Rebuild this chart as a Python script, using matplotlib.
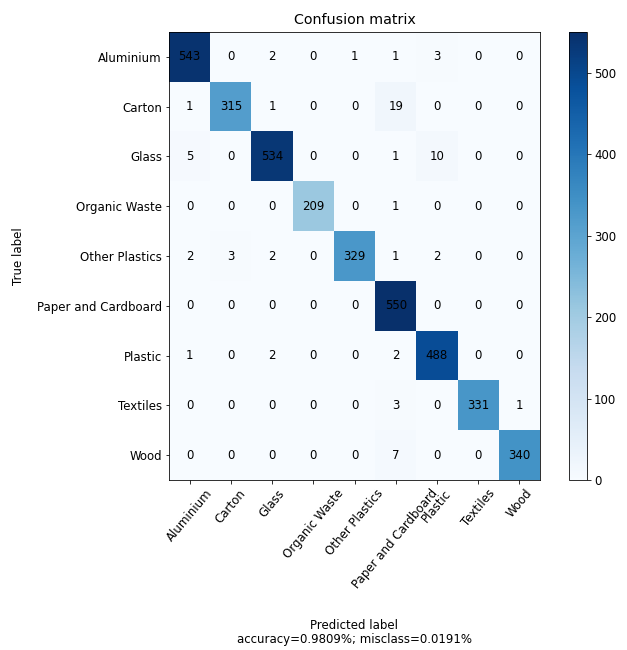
import numpy as np
import matplotlib
matplotlib.use("Agg")
from matplotlib import pyplot as plt

labels = ["Aluminium", "Carton", "Glass", "Organic Waste", "Other Plastics",
          "Paper and Cardboard", "Plastic", "Textiles", "Wood"]

cm = np.array([
    [543, 0, 2, 0, 1, 1, 3, 0, 0],
    [1, 315, 1, 0, 0, 19, 0, 0, 0],
    [5, 0, 534, 0, 0, 1, 10, 0, 0],
    [0, 0, 0, 209, 0, 1, 0, 0, 0],
    [2, 3, 2, 0, 329, 1, 2, 0, 0],
    [0, 0, 0, 0, 0, 550, 0, 0, 0],
    [1, 0, 2, 0, 0, 2, 488, 0, 0],
    [0, 0, 0, 0, 0, 3, 0, 331, 1],
    [0, 0, 0, 0, 0, 7, 0, 0, 340],
])

accuracy = 0.9809
misclass = 0.0191

plt.rcParams["font.size"] = 11.7

W, H = 627, 650
fig = plt.figure(figsize=(W / 72, H / 72), dpi=72)
ax = fig.add_axes([169 / W, 1 - 480 / H, (540 - 169) / W, (480 - 32) / H])
cax = fig.add_axes([569 / W, 1 - 480 / H, 18 / W, (480 - 32) / H])

im = ax.imshow(cm, interpolation="nearest", cmap=plt.cm.Blues, aspect="auto")
ax.set_title("Confusion matrix", fontsize=14.3, pad=8)
fig.colorbar(im, cax=cax)

ticks = np.arange(len(labels))
ax.set_xticks(ticks)
ax.set_xticklabels(labels, rotation=50)
ax.set_yticks(ticks)
ax.set_yticklabels(labels)

for i in range(cm.shape[0]):
    for j in range(cm.shape[1]):
        ax.text(j, i, "{:,}".format(cm[i, j]), ha="center", va="center", color="black")

ax.set_ylabel("True label")
ax.set_xlabel("Predicted label\naccuracy={:0.4f}%; misclass={:0.4f}%".format(accuracy, misclass),
              linespacing=1.1)
ax.xaxis.set_label_coords(0.5, -0.31)
ax.yaxis.set_label_coords(-0.388, 0.5)

fig.savefig("out.png", dpi=72)
